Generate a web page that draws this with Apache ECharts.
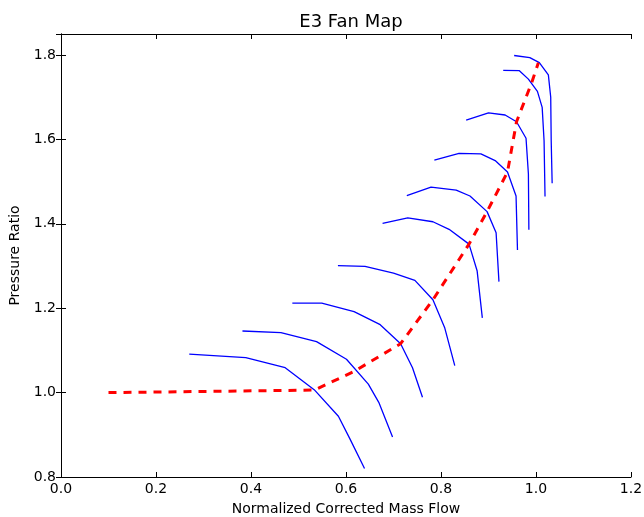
<!DOCTYPE html>
<html>
<head>
<meta charset="utf-8">
<script src="https://cdn.jsdelivr.net/npm/echarts@6/dist/echarts.min.js"></script>
<style>html,body{margin:0;padding:0;background:#fff;}#c{width:644px;height:517px;}</style>
</head>
<body>
<div id="c"></div>
<script>
const speedLine1 = [[0.270,1.091],[0.389,1.083],[0.472,1.059],[0.533,1.007],[0.584,0.944],[0.608,0.891],[0.639,0.820]];
const speedLine2 = [[0.382,1.146],[0.463,1.142],[0.538,1.121],[0.601,1.079],[0.647,1.020],[0.669,0.977],[0.698,0.895]];
const speedLine3 = [[0.487,1.212],[0.549,1.212],[0.617,1.192],[0.672,1.161],[0.715,1.116],[0.740,1.059],[0.761,0.989]];
const speedLine4 = [[0.583,1.301],[0.640,1.299],[0.700,1.283],[0.745,1.266],[0.783,1.220],[0.808,1.153],[0.829,1.064]];
const speedLine5 = [[0.677,1.401],[0.730,1.414],[0.783,1.405],[0.817,1.387],[0.859,1.352],[0.876,1.289],[0.887,1.177]];
const speedLine6 = [[0.728,1.467],[0.779,1.487],[0.832,1.480],[0.861,1.466],[0.897,1.429],[0.916,1.379],[0.922,1.263]];
const speedLine7 = [[0.786,1.551],[0.838,1.567],[0.884,1.566],[0.914,1.550],[0.940,1.523],[0.958,1.466],[0.961,1.338]];
const speedLine8 = [[0.853,1.646],[0.900,1.663],[0.935,1.658],[0.959,1.642],[0.979,1.603],[0.984,1.518],[0.985,1.386]];
const speedLine9 = [[0.931,1.764],[0.965,1.763],[0.984,1.743],[1.003,1.714],[1.013,1.676],[1.017,1.597],[1.019,1.465]];
const speedLine10 = [[0.954,1.799],[0.987,1.794],[1.007,1.782],[1.026,1.753],[1.031,1.700],[1.032,1.597],[1.034,1.496]];
const operatingLine = [[0.100,1.000],[0.533,1.006],[0.615,1.049],[0.715,1.116],[0.783,1.220],[0.859,1.352],[0.897,1.429],[0.940,1.523],[0.959,1.642],[0.991,1.735],[1.005,1.782]];
const speedLines = [speedLine1,speedLine2,speedLine3,speedLine4,speedLine5,speedLine6,speedLine7,speedLine8,speedLine9,speedLine10];

const FONT = 'DejaVu Sans';
const fmt = v => v.toFixed(1);
const tickStyle = {show:true, inside:true, length:5, lineStyle:{color:'#000', width:1}};
const lineStyle = {show:true, lineStyle:{color:'#000', width:1}};

const series = speedLines.map(d => ({
  type:'line', data:d, symbol:'none', silent:true,
  lineStyle:{color:'#0000ff', width:1.3}
}));
series.push({
  type:'line', data:operatingLine, symbol:'none', silent:true, z:5,
  lineStyle:{color:'#ff0000', width:3, type:[8,7]}
});

const chart = echarts.init(document.getElementById('c'), null, {renderer:'canvas'});
chart.setOption({
  animation:false,
  backgroundColor:'#fff',
  title:{text:'E3 Fan Map', left:346, top:8, textAlign:'center',
    textStyle:{fontFamily:FONT, fontSize:18, fontWeight:'normal', color:'#000'}},
  grid:{left:61, right:13, top:34, bottom:40, containLabel:false, outerBoundsMode:'none'},
  xAxis:[
    {type:'value', min:0, max:1.2, interval:0.2, position:'bottom',
     name:'Normalized Corrected Mass Flow', nameLocation:'middle', nameGap:25,
     nameTextStyle:{fontFamily:FONT, fontSize:14, color:'#000'},
     axisLine:lineStyle, axisTick:tickStyle, splitLine:{show:false},
     axisLabel:{fontFamily:FONT, fontSize:14, color:'#000', margin:5, formatter:fmt}},
    {type:'value', min:0, max:1.2, interval:0.2, position:'top',
     axisLine:lineStyle, axisTick:tickStyle, splitLine:{show:false}, axisLabel:{show:false}}
  ],
  yAxis:[
    {type:'value', min:0.8, max:1.85, interval:0.2, position:'left',
     name:'Pressure Ratio', nameLocation:'middle', nameGap:34,
     nameTextStyle:{fontFamily:FONT, fontSize:14, color:'#000'},
     axisLine:lineStyle, axisTick:tickStyle, splitLine:{show:false},
     axisLabel:{fontFamily:FONT, fontSize:14, color:'#000', margin:5, showMaxLabel:false,
       formatter:v => (Math.abs(v*5 - Math.round(v*5)) < 1e-6 ? v.toFixed(1) : '')}},
    {type:'value', min:0.8, max:1.85, interval:0.2, position:'right',
     axisLine:lineStyle, axisTick:tickStyle, splitLine:{show:false}, axisLabel:{show:false}}
  ],
  series:series
});
</script>
</body>
</html>
